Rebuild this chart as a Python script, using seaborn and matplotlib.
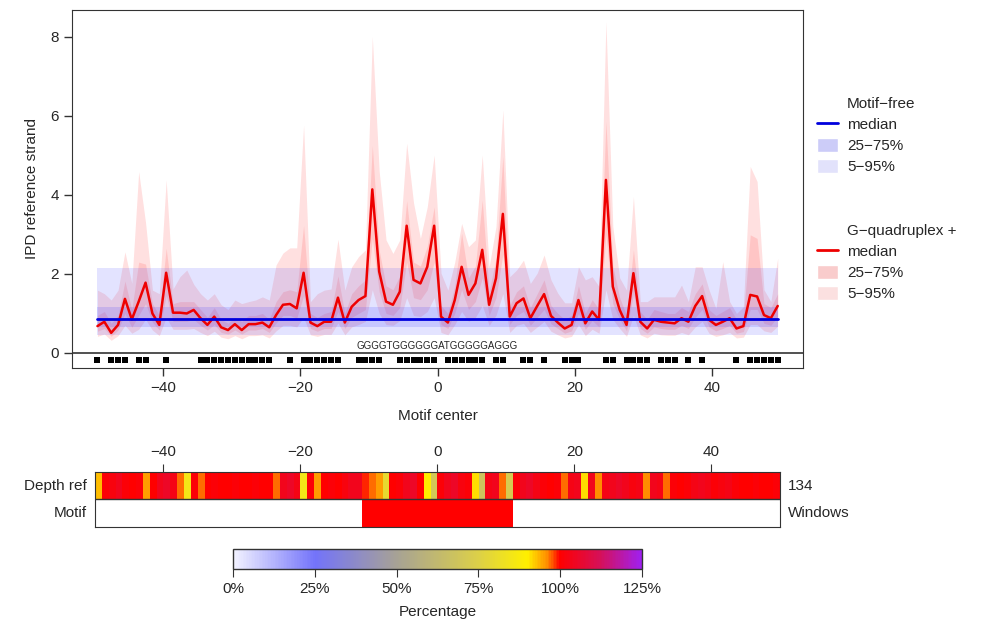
import numpy as np
import matplotlib
matplotlib.use("Agg")
import matplotlib.pyplot as plt
import seaborn as sns
from matplotlib.colors import LinearSegmentedColormap
from matplotlib.lines import Line2D
from matplotlib.patches import Patch

# window centres along the motif (100 windows)
positions = np.arange(-49.5, 50, 1.0)

# G-quadruplex windows: IPD summary per position
gquad_median = [0.68, 0.79, 0.51, 0.71, 1.37, 0.85, 1.30, 1.78, 1.00, 0.71,
                2.03, 1.02, 1.02, 1.00, 1.09, 0.88, 0.71, 0.92, 0.65, 0.58,
                0.73, 0.58, 0.73, 0.73, 0.77, 0.65, 0.96, 1.22, 1.24, 1.13,
                2.03, 0.77, 0.68, 0.79, 0.79, 1.40, 0.77, 1.17, 1.34, 1.44,
                4.14, 2.06, 1.30, 1.22, 1.55, 3.22, 1.85, 1.76, 2.18, 3.22,
                0.92, 0.77, 1.34, 2.18, 1.47, 1.76, 2.61, 1.22, 1.89, 3.52,
                0.92, 1.26, 1.38, 0.88, 1.19, 1.49, 0.94, 0.77, 0.62, 0.71,
                1.34, 0.75, 1.05, 0.84, 4.38, 1.68, 1.09, 0.71, 2.02, 0.79,
                0.62, 0.84, 0.79, 0.77, 0.75, 0.88, 0.79, 1.19, 1.44, 0.84,
                0.71, 0.79, 0.88, 0.62, 0.68, 1.47, 1.43, 0.96, 0.88, 1.19]
gquad_q25 = [0.55, 0.62, 0.42, 0.58, 1.00, 0.65, 0.95, 1.25, 0.78, 0.58,
             1.45, 0.80, 0.80, 0.80, 0.85, 0.70, 0.58, 0.72, 0.52, 0.48,
             0.58, 0.48, 0.58, 0.58, 0.62, 0.52, 0.76, 0.95, 0.95, 0.88,
             1.45, 0.62, 0.55, 0.62, 0.62, 1.05, 0.62, 0.90, 1.00, 1.10,
             2.90, 1.55, 1.00, 0.95, 1.15, 2.30, 1.40, 1.35, 1.60, 2.30,
             0.72, 0.62, 1.00, 1.60, 1.10, 1.30, 1.90, 0.95, 1.40, 2.50,
             0.72, 0.95, 1.05, 0.70, 0.90, 1.10, 0.74, 0.62, 0.50, 0.56,
             1.00, 0.60, 0.82, 0.66, 3.00, 1.25, 0.85, 0.56, 1.50, 0.62,
             0.50, 0.66, 0.62, 0.60, 0.60, 0.70, 0.62, 0.90, 1.10, 0.66,
             0.56, 0.62, 0.70, 0.50, 0.54, 1.10, 1.10, 0.75, 0.70, 0.92]
gquad_q75 = [0.95, 1.05, 0.75, 0.95, 1.82, 1.10, 2.30, 2.25, 1.25, 0.95,
             2.65, 1.25, 1.30, 1.30, 1.30, 1.10, 0.90, 1.15, 0.85, 0.75,
             0.90, 0.80, 0.95, 0.95, 1.00, 0.85, 1.30, 1.55, 1.60, 1.55,
             3.23, 1.00, 0.90, 1.00, 1.05, 1.95, 1.00, 1.50, 1.70, 1.85,
             5.25, 2.60, 1.70, 1.60, 1.95, 3.85, 2.30, 2.20, 2.70, 3.70,
             1.20, 1.00, 1.70, 3.03, 1.90, 2.20, 3.87, 1.55, 2.40, 4.97,
             1.20, 1.55, 1.70, 1.15, 1.50, 1.85, 1.20, 1.00, 0.85, 0.95,
             1.70, 1.00, 1.35, 1.10, 5.86, 2.20, 1.40, 0.95, 2.61, 1.05,
             0.85, 1.10, 1.05, 1.00, 1.00, 1.15, 1.05, 1.50, 1.75, 1.10,
             0.95, 1.05, 1.15, 0.85, 0.90, 2.99, 2.90, 1.25, 1.15, 1.50]
gquad_q05 = [0.42, 0.48, 0.32, 0.44, 0.70, 0.50, 0.60, 0.85, 0.58, 0.44,
             0.90, 0.60, 0.60, 0.60, 0.62, 0.52, 0.44, 0.55, 0.40, 0.36,
             0.44, 0.36, 0.44, 0.44, 0.46, 0.38, 0.56, 0.70, 0.70, 0.66,
             0.90, 0.46, 0.42, 0.47, 0.47, 0.76, 0.46, 0.66, 0.72, 0.80,
             1.60, 1.00, 0.72, 0.70, 0.82, 1.40, 0.95, 0.92, 1.05, 1.40,
             0.52, 0.46, 0.72, 1.05, 0.80, 0.90, 1.20, 0.70, 0.95, 1.50,
             0.52, 0.70, 0.75, 0.52, 0.66, 0.80, 0.55, 0.46, 0.38, 0.42,
             0.72, 0.44, 0.60, 0.50, 1.60, 0.85, 0.62, 0.42, 0.95, 0.46,
             0.38, 0.50, 0.46, 0.45, 0.45, 0.52, 0.46, 0.66, 0.80, 0.50,
             0.42, 0.46, 0.52, 0.38, 0.40, 0.72, 0.72, 0.56, 0.52, 0.68]
gquad_q95 = [1.59, 1.50, 1.34, 1.59, 2.56, 1.76, 4.59, 3.30, 1.59, 1.50,
             4.38, 1.62, 1.93, 2.10, 1.74, 1.50, 1.34, 1.50, 1.22, 1.10,
             1.34, 1.25, 1.30, 1.34, 1.42, 1.34, 2.23, 2.53, 2.66, 2.66,
             5.77, 1.30, 1.50, 1.59, 1.62, 2.88, 1.59, 2.18, 2.44, 2.61,
             8.01, 4.60, 2.86, 2.52, 2.86, 5.31, 3.80, 2.90, 3.70, 5.01,
             2.02, 1.59, 2.30, 3.28, 2.69, 2.86, 5.01, 2.18, 3.20, 6.15,
             1.93, 2.10, 2.35, 1.76, 2.02, 2.48, 1.85, 1.51, 1.27, 1.27,
             2.18, 1.85, 1.93, 1.68, 8.39, 3.20, 1.90, 1.59, 3.96, 1.30,
             1.30, 1.42, 1.42, 1.42, 1.42, 1.72, 1.30, 2.18, 2.18, 1.60,
             1.13, 2.31, 1.30, 1.00, 1.17, 4.72, 4.34, 1.60, 1.30, 2.40]

# motif-free background (constant across positions)
free_median = 0.85
free_q25, free_q75 = 0.65, 1.16
free_q05, free_q95 = 0.46, 2.14

# positions marked in the track under the zero line
mark_positions = [-49.5, -47.5, -46.5, -45.5, -43.5, -42.5, -39.5,
                  -34.5, -33.5, -32.5, -31.5, -30.5, -29.5, -28.5, -27.5, -26.5, -25.5, -24.5,
                  -21.5, -19.5, -18.5, -17.5, -16.5, -15.5, -14.5,
                  -11.5, -10.5, -9.5, -8.5, -5.5, -4.5, -3.5, -2.5, -1.5, -0.5,
                  1.5, 2.5, 3.5, 4.5, 5.5, 6.5, 8.5, 9.5,
                  12.5, 13.5, 15.5, 18.5, 19.5, 20.5, 24.5, 25.5,
                  27.5, 28.5, 29.5, 30.5, 32.5, 33.5, 34.5, 36.5, 38.5, 43.5,
                  45.5, 46.5, 47.5, 48.5, 49.5]
motif_seq = "GGGGTGGGGGGATGGGGGAGGG"
motif_start, motif_end = -11, 11

# read depth of reference strand, percent of expected
depth_ref = [93, 101, 102, 104, 101, 100, 101, 95, 100, 104,
             105, 103, 97, 85, 101, 97, 100, 101, 100, 100,
             101, 100, 100, 101, 100, 100, 97, 104, 105, 103,
             85, 101, 95, 100, 101, 100, 102, 104, 104, 99,
             97, 95, 80, 100, 101, 104, 105, 100, 90, 70,
             101, 104, 105, 102, 101, 91, 68, 103, 104, 97,
             72, 101, 104, 105, 103, 101, 100, 101, 97, 103,
             104, 91, 104, 96, 103, 104, 105, 104, 102, 103,
             96, 104, 103, 97, 101, 100, 101, 103, 104, 103,
             101, 102, 103, 101, 100, 100, 101, 100, 100, 101]
n_windows = 134

xticks = [-40, -20, 0, 20, 40]
pct_ticks = [0, 25, 50, 75, 100, 125]

sns.set_style("ticks")
plt.rcParams["font.family"] = ["Liberation Sans", "DejaVu Sans"]
plt.rcParams["font.size"] = 11
plt.rcParams["axes.unicode_minus"] = True

fig = plt.figure(figsize=(9.84, 6.31), dpi=100)
ax = fig.add_axes([0.0732, 0.4168, 0.743, 0.5674])
hax = fig.add_axes([0.0965, 0.1648, 0.6961, 0.0872])
cax = fig.add_axes([0.2368, 0.0983, 0.4157, 0.0317])

blue = "#0000dd"
red = "#ee0000"

# G-quadruplex bands and median
ax.fill_between(positions, gquad_q05, gquad_q95, color="#ff3030", alpha=0.15, lw=0)
ax.fill_between(positions, gquad_q25, gquad_q75, color="#ff3030", alpha=0.15, lw=0)
sns.lineplot(x=positions, y=gquad_median, color=red, lw=1.8, ax=ax)

# motif-free bands on top
ax.fill_between(positions, free_q05, free_q95, color="#4848ff", alpha=0.15, lw=0)
ax.fill_between(positions, free_q25, free_q75, color="#4848ff", alpha=0.18, lw=0)
sns.lineplot(x=positions, y=np.full(len(positions), free_median), color=blue, lw=2, ax=ax)

ax.axhline(0, color="#333333", lw=1.2)
ax.scatter(mark_positions, np.full(len(mark_positions), -0.18), marker="s", s=18,
           color="black", linewidths=0)
ax.text((motif_start + motif_end) / 2, 0.06, motif_seq, ha="center", va="bottom", fontsize=7)

ax.set_xlim(-53.2, 53.2)
ax.set_ylim(-0.38, 8.68)
ax.set_xticks(xticks)
ax.set_yticks([0, 2, 4, 6, 8])
ax.set_xlabel("Motif center", labelpad=10)
ax.set_ylabel("IPD reference strand", labelpad=8)
ax.tick_params(length=6, width=1, color="#333333")
for sp in ax.spines.values():
    sp.set_visible(True)
    sp.set_color("#333333")

handles = [
    Line2D([], [], color="none", label="Motif\u2212free"),
    Line2D([], [], color=blue, lw=2, label="median"),
    Patch(facecolor="#ccccf8", label="25\u221275%"),
    Patch(facecolor="#e2e2fb", label="5\u221295%"),
    Line2D([], [], color="none", label=" "),
    Line2D([], [], color="none", label=" "),
    Line2D([], [], color="none", label="G\u2212quadruplex +"),
    Line2D([], [], color=red, lw=2, label="median"),
    Patch(facecolor="#f9cccc", label="25\u221275%"),
    Patch(facecolor="#fbe0e0", label="5\u221295%"),
]
ax.legend(handles=handles, loc="center left", bbox_to_anchor=(1.01, 0.473), frameon=False,
          handlelength=1.4, handleheight=1.0, handletextpad=0.6, labelspacing=0.4,
          borderaxespad=0)

# heatmap: depth row and motif row
cmap = LinearSegmentedColormap.from_list("pct", [
    (0.0, "#f2f2ff"), (0.2, "#7373fa"), (0.4, "#a7a295"), (0.6, "#dcd048"),
    (0.72, "#fff000"), (0.77, "#ff8a00"), (0.8, "#ff0000"), (0.9, "#d5105a"),
    (1.0, "#a020f0")])
motif_row = [100 if motif_start <= p <= motif_end else np.nan for p in positions]
heat = np.array([depth_ref, motif_row], dtype=float)
sns.heatmap(heat, ax=hax, cmap=cmap, vmin=0, vmax=125, cbar_ax=cax,
            cbar_kws={"orientation": "horizontal"},
            xticklabels=False, yticklabels=["Depth ref", "Motif"])
hax.set_facecolor("white")
for sp in hax.spines.values():
    sp.set_visible(True)
    sp.set_color("#333333")
hax.axhline(1, color="#333333", lw=1)
hax.xaxis.tick_top()
hax.set_xticks([t + 50 for t in xticks])
hax.set_xticklabels([f"{t}".replace("-", "\u2212") for t in xticks])
hax.tick_params(axis="x", length=6, color="#333333", pad=3)
hax.tick_params(axis="y", length=0, rotation=0, pad=6)
hax.text(1.012, 0.75, str(n_windows), transform=hax.transAxes, va="center", ha="left")
hax.text(1.012, 0.25, "Windows", transform=hax.transAxes, va="center", ha="left")

cbar = hax.collections[0].colorbar
cbar.set_ticks(pct_ticks)
cbar.set_ticklabels([f"{t}%" for t in pct_ticks])
cbar.set_label("Percentage", labelpad=6)
cbar.outline.set_visible(True)
cbar.outline.set_linewidth(1)
cbar.outline.set_edgecolor("#333333")
cbar.ax.tick_params(length=6, color="#333333")

fig.savefig("out.png", dpi=100)
